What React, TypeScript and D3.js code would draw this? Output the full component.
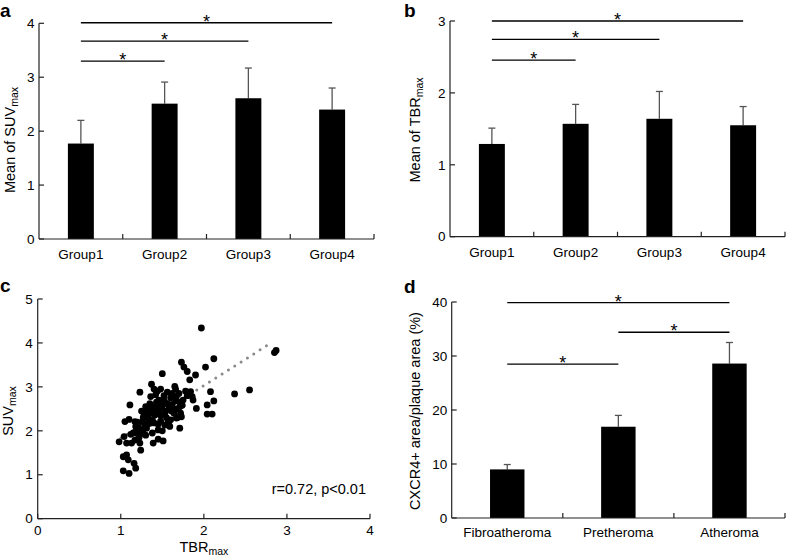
import React from "react";
import * as d3 from "d3";

// ---- Data ----
const groups = ["Group1", "Group2", "Group3", "Group4"];
const suvMeans = [1.77, 2.51, 2.61, 2.4];
const suvErrTop = [2.2, 2.91, 3.17, 2.8];
const tbrMeans = [1.29, 1.57, 1.64, 1.55];
const tbrErrTop = [1.51, 1.84, 2.02, 1.81];
const suvTicks = [0, 1, 2, 3, 4];
const tbrTicks = [0, 1, 2, 3];
const suvSig: [number, number, number][] = [
  [0, 3, 4.01],
  [0, 2, 3.67],
  [0, 1, 3.3],
];
const tbrSig: [number, number, number][] = [
  [0, 3, 3.0],
  [0, 2, 2.745],
  [0, 1, 2.457],
];

const plaqueTypes = ["Fibroatheroma", "Pretheroma", "Atheroma"];
const cxcrMeans = [9.0, 16.9, 28.6];
const cxcrErrTop = [9.9, 19.0, 32.5];
const cxcrTicks = [0, 10, 20, 30, 40];
const cxcrSig: [number, number, number][] = [
  [0, 2, 39.9],
  [1, 2, 34.4],
  [0, 1, 28.5],
];

const scatterTBR = [
  1.97, 2.02, 2.12, 2.87, 2.85, 2.37, 2.55, 2.08, 2.04, 2.12, 2.04, 2.1, 1.91,
  1.9, 1.73, 1.76, 1.8, 1.83, 1.5, 1.37, 1.23, 1.11, 1.05, 1.1, 1.17, 0.98,
  1.04, 1.07, 1.13, 1.17, 1.03, 1.09, 1.07, 1.16, 1.18, 1.03, 1.1, 1.24, 1.23,
  1.27, 1.2, 1.31, 1.35, 1.39, 1.45, 1.51, 1.45, 1.53, 1.59, 1.71, 1.67, 1.73,
  1.71, 1.67, 1.65, 1.84, 1.86, 1.87, 1.28, 1.3, 1.32, 1.34, 1.36, 1.38, 1.4,
  1.42, 1.44, 1.46, 1.48, 1.5, 1.52, 1.54, 1.56, 1.58, 1.6, 1.62, 1.64, 1.66,
  1.68, 1.7, 1.72, 1.36, 1.42, 1.46, 1.3, 1.26, 1.22, 1.28, 1.32, 1.4, 1.48,
  1.55, 1.6, 1.35, 1.25, 1.2, 1.18, 1.15, 1.22, 1.3, 1.38, 1.5, 1.58, 1.62,
  1.66, 1.56, 1.52, 1.75, 1.78, 1.8, 1.72, 1.68, 1.44, 1.4, 1.48, 1.53, 1.57,
  1.45, 1.49, 1.33, 1.43, 1.61, 1.27, 1.37, 1.21, 1.26, 1.33, 1.41, 1.47,
  1.12, 1.19, 1.29, 1.55, 1.63, 1.74,
];
const scatterSUV = [
  4.34, 3.45, 3.64, 3.83, 3.78, 2.84, 2.93, 2.89, 2.59, 2.68, 2.38, 2.38, 2.51,
  3.27, 3.56, 3.45, 3.35, 3.16, 3.3, 3.06, 2.88, 2.59, 2.21, 2.26, 2.21, 1.75,
  1.87, 1.72, 1.72, 1.79, 1.41, 1.34, 1.45, 1.26, 1.15, 1.09, 1.03, 1.56, 1.72,
  1.94, 1.94, 2.06, 2.17, 1.72, 1.81, 1.77, 2.02, 2.13, 2.1, 2.06, 2.29, 2.32,
  2.55, 2.78, 3.01, 2.89, 2.78, 2.7, 2.35, 2.45, 2.3, 2.4, 2.5, 2.25, 2.55,
  2.4, 2.62, 2.48, 2.35, 2.58, 2.7, 2.45, 2.62, 2.52, 2.75, 2.6, 2.4, 2.68,
  2.5, 2.85, 2.65, 2.78, 2.82, 2.7, 2.55, 2.2, 2.0, 2.05, 2.15, 2.18, 2.22,
  2.3, 2.25, 2.62, 2.45, 2.2, 2.1, 1.95, 1.85, 1.9, 1.95, 2.0, 2.12, 2.85,
  2.95, 2.88, 2.8, 2.7, 2.9, 2.8, 2.4, 2.3, 2.9, 2.95, 2.95, 2.4, 2.2, 2.15,
  2.55, 2.35, 2.65, 2.45, 2.3, 2.42, 2.08, 1.98, 2.28, 2.36, 2.52, 1.92,
  2.02, 2.12, 2.62, 2.5, 2.58,
];
const scatterXTicks = [0, 1, 2, 3, 4];
const scatterYTicks = [0, 1, 2, 3, 4, 5];
const regression = { x0: 1.0, x1: 2.82, slope: 1.2, intercept: 0.63 };

const FONT = "'Liberation Sans', Arial, Helvetica, sans-serif";
const AXIS = "#222";

type Sig = [number, number, number];

function BarPanel(props: {
  cats: string[];
  means: number[];
  errTop: number[];
  ticks: number[];
  sig: Sig[];
  x0: number;
  x1: number;
  yTop: number;
  yBottom: number;
  yMax: number;
  tickLabelOffset: number;
  title: React.ReactNode;
  titleX: number;
  titleY: number;
  letter: string;
  letterX: number;
  letterY: number;
}) {
  const p = props;
  const x = d3.scaleBand<string>().domain(p.cats).range([p.x0, p.x1]).padding(0);
  const y = d3.scaleLinear().domain([0, p.yMax]).range([p.yBottom, p.yTop]);
  const bw = x.bandwidth();
  const barW = bw * 0.31;
  const cx = (c: string) => (x(c) as number) + bw / 2;
  return (
    <g>
      <text x={p.letterX} y={p.letterY} fontSize={19} fontWeight="bold">
        {p.letter}
      </text>
      {p.cats.map((c, i) => (
        <g key={c}>
          <line
            x1={cx(c)}
            x2={cx(c)}
            y1={y(p.means[i])}
            y2={y(p.errTop[i])}
            stroke="#555"
            strokeWidth={1.3}
          />
          <line
            x1={cx(c) - 3.5}
            x2={cx(c) + 3.5}
            y1={y(p.errTop[i])}
            y2={y(p.errTop[i])}
            stroke="#555"
            strokeWidth={1.3}
          />
          <rect
            x={cx(c) - barW / 2}
            y={y(p.means[i])}
            width={barW}
            height={y(0) - y(p.means[i])}
            fill="#000"
          />
        </g>
      ))}
      <line x1={p.x0} x2={p.x0} y1={y(0)} y2={y(p.yMax)} stroke={AXIS} strokeWidth={1.2} />
      {p.ticks.map((t) => (
        <g key={t}>
          <line x1={p.x0} x2={p.x0 + 5} y1={y(t)} y2={y(t)} stroke={AXIS} strokeWidth={1.2} />
          <text x={p.x0 - 4.5} y={y(t)} dy="0.35em" textAnchor="end" fontSize={13.5}>
            {t}
          </text>
        </g>
      ))}
      <line x1={p.x0} x2={p.x1} y1={y(0)} y2={y(0)} stroke={AXIS} strokeWidth={1.2} />
      {p.cats.map((c) => (
        <g key={c}>
          <line
            x1={(x(c) as number) + bw}
            x2={(x(c) as number) + bw}
            y1={y(0)}
            y2={y(0) - 5}
            stroke={AXIS}
            strokeWidth={1.2}
          />
          <text x={cx(c)} y={y(0) + p.tickLabelOffset} textAnchor="middle" fontSize={13.5}>
            {c}
          </text>
        </g>
      ))}
      {p.sig.map(([a, b, v], k) => {
        const xa = cx(p.cats[a]);
        const xb = cx(p.cats[b]);
        return (
          <g key={k}>
            <line x1={xa} x2={xb} y1={y(v)} y2={y(v)} stroke="#000" strokeWidth={1.3} />
            <text x={(xa + xb) / 2} y={y(v) + 5} textAnchor="middle" fontSize={18}>
              *
            </text>
          </g>
        );
      })}
      <text
        transform={`translate(${p.titleX},${p.titleY}) rotate(-90)`}
        textAnchor="middle"
        fontSize={14.5}
      >
        {p.title}
      </text>
    </g>
  );
}

function ScatterPanel() {
  const x = d3.scaleLinear().domain([0, 4]).range([37.7, 370]);
  const y = d3.scaleLinear().domain([0, 5]).range([518.7, 299]);
  const line = d3
    .line<number>()
    .x((d) => x(d))
    .y((d) => y(regression.intercept + regression.slope * d));
  return (
    <g>
      <text x={0} y={292} fontSize={19} fontWeight="bold">
        c
      </text>
      <path
        d={line([regression.x0, regression.x1]) || ""}
        stroke="#8a8a8a"
        strokeWidth={3}
        strokeLinecap="round"
        strokeDasharray="0 7.5"
        fill="none"
      />
      {scatterTBR.map((v, i) => (
        <circle key={i} cx={x(v)} cy={y(scatterSUV[i])} r={3.4} fill="#000" />
      ))}
      <line x1={x(0)} x2={x(0)} y1={y(0)} y2={y(5)} stroke={AXIS} strokeWidth={1.2} />
      {scatterYTicks.map((t) => (
        <g key={t}>
          <line x1={x(0)} x2={x(0) + 5} y1={y(t)} y2={y(t)} stroke={AXIS} strokeWidth={1.2} />
          <text x={x(0) - 5} y={y(t)} dy="0.35em" textAnchor="end" fontSize={13.5}>
            {t}
          </text>
        </g>
      ))}
      <line x1={x(0)} x2={x(4)} y1={y(0)} y2={y(0)} stroke={AXIS} strokeWidth={1.2} />
      {scatterXTicks.map((t) => (
        <g key={t}>
          <line x1={x(t)} x2={x(t)} y1={y(0)} y2={y(0) - 5} stroke={AXIS} strokeWidth={1.2} />
          <text x={x(t)} y={y(0) + 16} textAnchor="middle" fontSize={13.5}>
            {t}
          </text>
        </g>
      ))}
      <text x={366} y={494} textAnchor="end" fontSize={14.5}>
        r=0.72, p&lt;0.01
      </text>
      <text x={(x(0) + x(4)) / 2} y={552} textAnchor="middle" fontSize={14.5}>
        TBR
        <tspan fontSize={10.5} dy={3}>
          max
        </tspan>
      </text>
      <text transform={`translate(13,411) rotate(-90)`} textAnchor="middle" fontSize={14.5}>
        SUV
        <tspan fontSize={10.5} dy={3}>
          max
        </tspan>
      </text>
    </g>
  );
}

export default function App() {
  return (
    <svg
      width={787}
      height={558}
      style={{ position: "absolute", left: 0, top: 0, background: "#fff" }}
      fontFamily={FONT}
    >
      <rect width={787} height={558} fill="#fff" />
      <BarPanel
        cats={groups}
        means={suvMeans}
        errTop={suvErrTop}
        ticks={suvTicks}
        sig={suvSig}
        x0={39}
        x1={374}
        yTop={23.3}
        yBottom={239}
        yMax={4}
        tickLabelOffset={20}
        title={
          <>
            Mean of SUV
            <tspan fontSize={10.5} dy={3}>
              max
            </tspan>
          </>
        }
        titleX={15}
        titleY={140}
        letter="a"
        letterX={0}
        letterY={17}
      />
      <BarPanel
        cats={groups}
        means={tbrMeans}
        errTop={tbrErrTop}
        ticks={tbrTicks}
        sig={tbrSig}
        x0={450}
        x1={785}
        yTop={21}
        yBottom={236.7}
        yMax={3}
        tickLabelOffset={20.5}
        title={
          <>
            Mean of TBR
            <tspan fontSize={10.5} dy={3}>
              max
            </tspan>
          </>
        }
        titleX={420}
        titleY={130}
        letter="b"
        letterX={404}
        letterY={17}
      />
      <ScatterPanel />
      <BarPanel
        cats={plaqueTypes}
        means={cxcrMeans}
        errTop={cxcrErrTop}
        ticks={cxcrTicks}
        sig={cxcrSig}
        x0={451.7}
        x1={785}
        yTop={302}
        yBottom={518}
        yMax={40}
        tickLabelOffset={18.5}
        title={<>CXCR4+ area/plaque area (%)</>}
        titleX={420}
        titleY={411}
        letter="d"
        letterX={404}
        letterY={293}
      />
    </svg>
  );
}
